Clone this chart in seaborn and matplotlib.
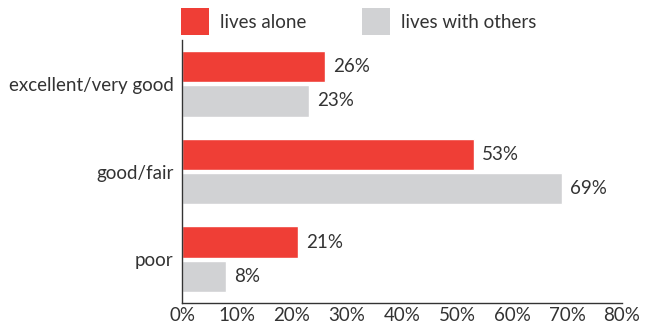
import matplotlib
matplotlib.use("Agg")
import matplotlib.pyplot as plt
import seaborn as sns
import pandas as pd
from matplotlib.patches import Patch

categories = ["excellent/very good", "good/fair", "poor"]
series = ["lives alone", "lives with others"]
lives_alone = [26, 53, 21]
lives_with_others = [23, 69, 8]
xticks = [0, 10, 20, 30, 40, 50, 60, 70, 80]
colors = ["#EF3E36", "#D1D2D4"]

sns.set_theme(style="white")
plt.rcParams["font.family"] = ["Lato", "DejaVu Sans"]
txt = "#333333"
fs = 13.5

df = pd.DataFrame({
    "category": categories * 2,
    "group": [series[0]] * 3 + [series[1]] * 3,
    "value": lives_alone + lives_with_others,
})

fig = plt.figure(figsize=(6.57, 3.27), dpi=100)
ax = fig.add_axes([182 / 657, 1 - 303 / 327, 440 / 657, 263 / 327])
sns.barplot(data=df, y="category", x="value", hue="group", order=categories,
            hue_order=series, palette=colors, orient="h", width=0.78, gap=0.08,
            saturation=1, ax=ax, legend=False)

for cont in ax.containers:
    ax.bar_label(cont, labels=[f"{v:.0f}%" for v in cont.datavalues],
                 padding=6, fontsize=fs, color=txt)

ax.set_xlim(0, 80)
ax.set_ylim(2.5, -0.5)
ax.set_xticks(xticks)
ax.set_xticklabels([f"{t}%" for t in xticks], fontsize=fs, color=txt)
ax.tick_params(axis="y", labelsize=fs, labelcolor=txt, direction="in",
               length=6, width=1, color=txt, pad=6)
ax.tick_params(axis="x", direction="in", length=6, width=1, color=txt, pad=3)
ax.set_xlabel("")
ax.set_ylabel("")
for s in ["top", "right"]:
    ax.spines[s].set_visible(False)
for s in ["left", "bottom"]:
    ax.spines[s].set_color(txt)
    ax.spines[s].set_linewidth(1)

handles = [Patch(facecolor=c, edgecolor="none", label=l) for c, l in zip(colors, series)]
ax.legend(handles=handles, loc="lower left", bbox_to_anchor=(-0.002, 1.02),
          ncol=2, frameon=False, fontsize=fs, handlelength=1.5, handleheight=1.8,
          handletextpad=0.55, columnspacing=3.0, borderaxespad=0, borderpad=0,
          labelcolor=txt)

fig.savefig("out.png", dpi=100)
